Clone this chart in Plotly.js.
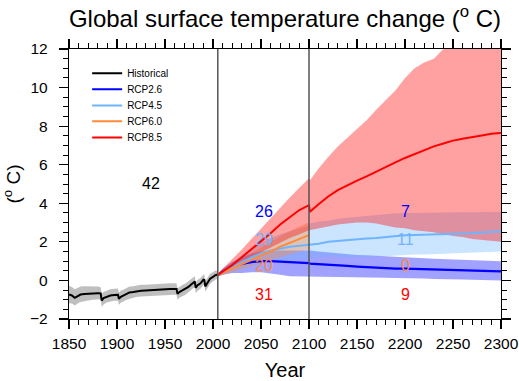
<!DOCTYPE html>
<html>
<head>
<meta charset="utf-8">
<script src="https://cdn.plot.ly/plotly-3.0.1.min.js"></script>
<style>html,body{margin:0;padding:0;background:#fff;}#chart{width:519px;height:381px;}</style>
</head>
<body>
<div id="chart"></div>
<script>
// ---------------- data ----------------
const histYears = [1850,1853,1856,1859,1862,1866,1870,1875,1880,1883,1884,1886,1889,1893,1897,1901,1902,1904,1907,1910,1913,1917,1920,1925,1930,1935,1940,1945,1950,1955,1960,1962,1963,1965,1968,1971,1974,1977,1980,1981,1982,1984,1987,1990,1991,1992,1994,1997,2000,2002,2005];
const histMean  = [-0.73,-0.78,-0.9,-0.8,-0.73,-0.7,-0.68,-0.66,-0.66,-0.67,-1.04,-0.92,-0.85,-0.78,-0.75,-0.74,-0.95,-0.85,-0.78,-0.7,-0.62,-0.6,-0.56,-0.53,-0.52,-0.5,-0.48,-0.47,-0.46,-0.45,-0.44,-0.44,-0.69,-0.6,-0.52,-0.45,-0.35,-0.22,-0.1,-0.05,-0.38,-0.25,-0.15,0.04,0.02,-0.31,-0.15,0.09,0.18,0.26,0.31];
const histUpper = [-0.28,-0.34,-0.46,-0.37,-0.32,-0.3,-0.3,-0.3,-0.32,-0.35,-0.7,-0.6,-0.53,-0.46,-0.43,-0.42,-0.63,-0.54,-0.47,-0.4,-0.32,-0.3,-0.26,-0.23,-0.22,-0.2,-0.18,-0.16,-0.16,-0.15,-0.15,-0.15,-0.4,-0.32,-0.24,-0.17,-0.07,0.06,0.18,0.22,-0.1,0.03,0.13,0.31,0.29,-0.04,0.12,0.35,0.43,0.5,0.52];
const histLower = [-1.18,-1.2,-1.3,-1.2,-1.12,-1.08,-1.04,-1.0,-0.98,-0.98,-1.38,-1.25,-1.15,-1.1,-1.06,-1.05,-1.26,-1.16,-1.08,-1.0,-0.93,-0.9,-0.86,-0.83,-0.82,-0.8,-0.78,-0.77,-0.76,-0.75,-0.74,-0.74,-1.0,-0.9,-0.82,-0.75,-0.64,-0.5,-0.38,-0.33,-0.66,-0.53,-0.43,-0.24,-0.26,-0.58,-0.42,-0.17,-0.07,0.02,0.1];

const projYearsA = [2005,2010,2020,2030,2040,2050,2060,2070,2080,2090,2100];
const projYearsB = [2101,2110,2120,2130,2140,2150,2160,2170,2180,2190,2200,2210,2220,2230,2240,2250,2260,2270,2280,2290,2300];

const rcp26MeanA  = [0.28,0.45,0.7,0.85,0.95,1.0,1.0,0.98,0.95,0.93,0.9];
const rcp26UpperA = [0.35,0.6,0.95,1.2,1.4,1.5,1.55,1.55,1.55,1.55,1.55];
const rcp26LowerA = [0.2,0.3,0.38,0.38,0.42,0.43,0.38,0.3,0.22,0.2,0.18];
const rcp26MeanB  = [0.87,0.85,0.82,0.78,0.75,0.72,0.69,0.66,0.63,0.61,0.61,0.6,0.58,0.58,0.57,0.56,0.55,0.53,0.5,0.48,0.47];
const rcp26UpperB = [1.55,1.5,1.45,1.4,1.35,1.32,1.3,1.28,1.25,1.22,1.2,1.18,1.15,1.12,1.1,1.1,1.08,1.05,1.05,1.02,1.0];
const rcp26LowerB = [0.2,0.2,0.18,0.17,0.17,0.15,0.15,0.15,0.14,0.12,0.12,0.1,0.1,0.08,0.07,0.05,0.05,0.03,0.02,0.0,0.0];

const rcp45MeanA  = [0.28,0.42,0.7,0.95,1.2,1.4,1.55,1.65,1.75,1.8,1.85];
const rcp45UpperA = [0.35,0.55,0.95,1.3,1.65,1.95,2.2,2.4,2.55,2.7,2.85];
const rcp45LowerA = [0.2,0.3,0.45,0.6,0.75,0.85,0.95,1.0,1.05,1.1,1.1];
const rcp45MeanB  = [1.82,1.9,2.0,2.05,2.1,2.15,2.17,2.2,2.25,2.3,2.34,2.35,2.36,2.37,2.38,2.4,2.42,2.45,2.48,2.52,2.55];
const rcp45UpperB = [2.95,3.05,3.1,3.2,3.25,3.3,3.35,3.4,3.45,3.48,3.5,3.5,3.5,3.52,3.5,3.52,3.53,3.54,3.55,3.55,3.56];
const rcp45LowerB = [1.15,1.2,1.25,1.22,1.2,1.22,1.2,1.25,1.28,1.3,1.32,1.35,1.35,1.38,1.4,1.4,1.42,1.45,1.45,1.48,1.5];

const rcp60MeanA  = [0.28,0.4,0.65,0.85,1.05,1.3,1.5,1.75,1.95,2.15,2.35];
const rcp60UpperA = [0.35,0.5,0.85,1.1,1.4,1.7,2.0,2.3,2.55,2.8,3.0];
const rcp60LowerA = [0.2,0.3,0.45,0.6,0.75,0.9,1.05,1.2,1.35,1.5,1.6];

const rcp85MeanA  = [0.28,0.45,0.8,1.2,1.6,2.05,2.45,2.9,3.3,3.65,3.9];
const rcp85UpperA = [0.36,0.6,1.1,1.6,2.15,2.7,3.25,3.8,4.3,4.8,5.3];
const rcp85LowerA = [0.2,0.33,0.6,0.9,1.2,1.45,1.7,1.95,2.2,2.4,2.6];
const rcp85MeanB  = [3.56,3.95,4.35,4.68,4.95,5.18,5.4,5.65,5.9,6.12,6.35,6.55,6.78,6.95,7.1,7.25,7.35,7.45,7.52,7.6,7.65];
const rcp85UpperB = [5.2,5.8,6.4,6.95,7.4,7.85,8.3,8.85,9.35,9.85,10.5,11.0,11.3,11.5,12.0,12.4,12.7,13.0,13.2,13.4,13.6];
const rcp85LowerB = [2.6,2.7,2.8,2.9,2.95,3.0,3.0,2.95,2.85,2.75,2.7,2.6,2.55,2.5,2.4,2.3,2.25,2.15,2.1,2.05,2.0];

const seriesNames = ["Historical","RCP2.6","RCP4.5","RCP6.0","RCP8.5"];
const countYears  = [1935,2053,2053,2053,2053,2200,2200,2200,2200];
const countValues = [5.05,3.55,2.1,0.78,-0.73,3.55,2.1,0.78,-0.73];
const countLabels = ["42","26","29","20","31","7","11","0","9"];
const dividerYears = [2005,2100];

// ---------------- styling ----------------
const lineColors = ["#000000","#0000FF","#6FB4FF","#FF8A3D","#FF0000"];
const bandColors = ["rgba(0,0,0,0.25)","rgba(0,0,255,0.37)","rgba(111,180,255,0.36)","rgba(255,138,61,0.37)","rgba(255,0,0,0.37)"];
const countColorIdx = [0,1,2,3,4,1,2,3,4];
const FONT = "Liberation Sans, Arial, Helvetica, sans-serif";

function band(x, up, lo, color) {
  return {x: x.concat(x.slice().reverse()), y: up.concat(lo.slice().reverse()),
          type: "scatter", mode: "lines", fill: "toself", fillcolor: color,
          line: {width: 0}, hoverinfo: "skip", showlegend: false};
}
function line(x, y, i, w) {
  return {x: x, y: y, type: "scatter", mode: "lines", name: seriesNames[i],
          line: {color: lineColors[i], width: w},
          legend: i === 0 ? "legend" : "legend" + (i + 1)};
}
const xAB = projYearsA.concat(projYearsB);

const traces = [
  band(histYears, histUpper, histLower, bandColors[0]),
  band(xAB, rcp26UpperA.concat(rcp26UpperB), rcp26LowerA.concat(rcp26LowerB), bandColors[1]),
  band(xAB, rcp45UpperA.concat(rcp45UpperB), rcp45LowerA.concat(rcp45LowerB), bandColors[2]),
  band(projYearsA, rcp60UpperA, rcp60LowerA, bandColors[3]),
  band(xAB, rcp85UpperA.concat(rcp85UpperB), rcp85LowerA.concat(rcp85LowerB), bandColors[4]),
  line(histYears, histMean, 0, 2),
  line(xAB, rcp26MeanA.concat(rcp26MeanB), 1, 2.2),
  line(xAB, rcp45MeanA.concat(rcp45MeanB), 2, 2),
  line(projYearsA, rcp60MeanA, 3, 2),
  line(xAB, rcp85MeanA.concat(rcp85MeanB), 4, 2)
];

const legendRowsY = [0.91, 0.851, 0.791, 0.732, 0.672];
const legendBase = {x: 0.042, xanchor: "left", yanchor: "middle", bgcolor: "rgba(0,0,0,0)",
                    borderwidth: 0, font: {family: FONT, size: 10, color: "#000"}};
const layout = {
  width: 519, height: 381,
  margin: {l: 69, r: 18, t: 49, b: 62, pad: 0},
  paper_bgcolor: "#fff", plot_bgcolor: "#fff",
  font: {family: FONT, color: "#000"},
  title: {text: "Global surface temperature change (<sup>o</sup> C)", font: {family: FONT, size: 24, color: "#000"},
          x: 0.5, xref: "paper", xanchor: "center", y: 0.952, yref: "container", yanchor: "middle"},
  xaxis: {range: [1850, 2300], dtick: 50, tick0: 1850, ticks: "outside", ticklen: 9, tickwidth: 1.2,
          tickcolor: "#000", showline: true, linecolor: "#000", linewidth: 1.2, mirror: "allticks",
          showgrid: false, zeroline: false, ticklabelstandoff: 1,
          tickfont: {family: FONT, size: 15.5, color: "#000"},
          minor: {dtick: 10, ticks: "outside", ticklen: 5, tickwidth: 1, tickcolor: "#000", showgrid: false},
          title: {text: "Year", font: {family: FONT, size: 20, color: "#000"}, standoff: 12}},
  yaxis: {range: [-2, 12], dtick: 2, tick0: 0, ticks: "outside", ticklen: 9, tickwidth: 1.2,
          tickcolor: "#000", showline: true, linecolor: "#000", linewidth: 1.2, mirror: "allticks",
          showgrid: false, zeroline: false, ticklabelstandoff: 8,
          tickfont: {family: FONT, size: 15.5, color: "#000"},
          minor: {dtick: 0.5, ticks: "outside", ticklen: 5, tickwidth: 1, tickcolor: "#000", showgrid: false},
          title: {text: "(<sup>o</sup> C)", font: {family: FONT, size: 19, color: "#000"}, standoff: 8}},
  shapes: dividerYears.map(yr => ({type: "line", xref: "x", yref: "paper", x0: yr, x1: yr, y0: 0, y1: 1,
          line: {color: "#555", width: 1.5}, layer: "above"})),
  annotations: countLabels.map((t, i) => ({x: countYears[i], y: countValues[i], xref: "x", yref: "y",
          text: t, showarrow: false, font: {family: FONT, size: 16, color: lineColors[countColorIdx[i]]}})),
  showlegend: true
};
legendRowsY.forEach((yy, i) => {
  layout[i === 0 ? "legend" : "legend" + (i + 1)] = Object.assign({}, legendBase, {y: yy});
});

Plotly.newPlot("chart", traces, layout, {staticPlot: true, displayModeBar: false});
</script>
</body>
</html>
